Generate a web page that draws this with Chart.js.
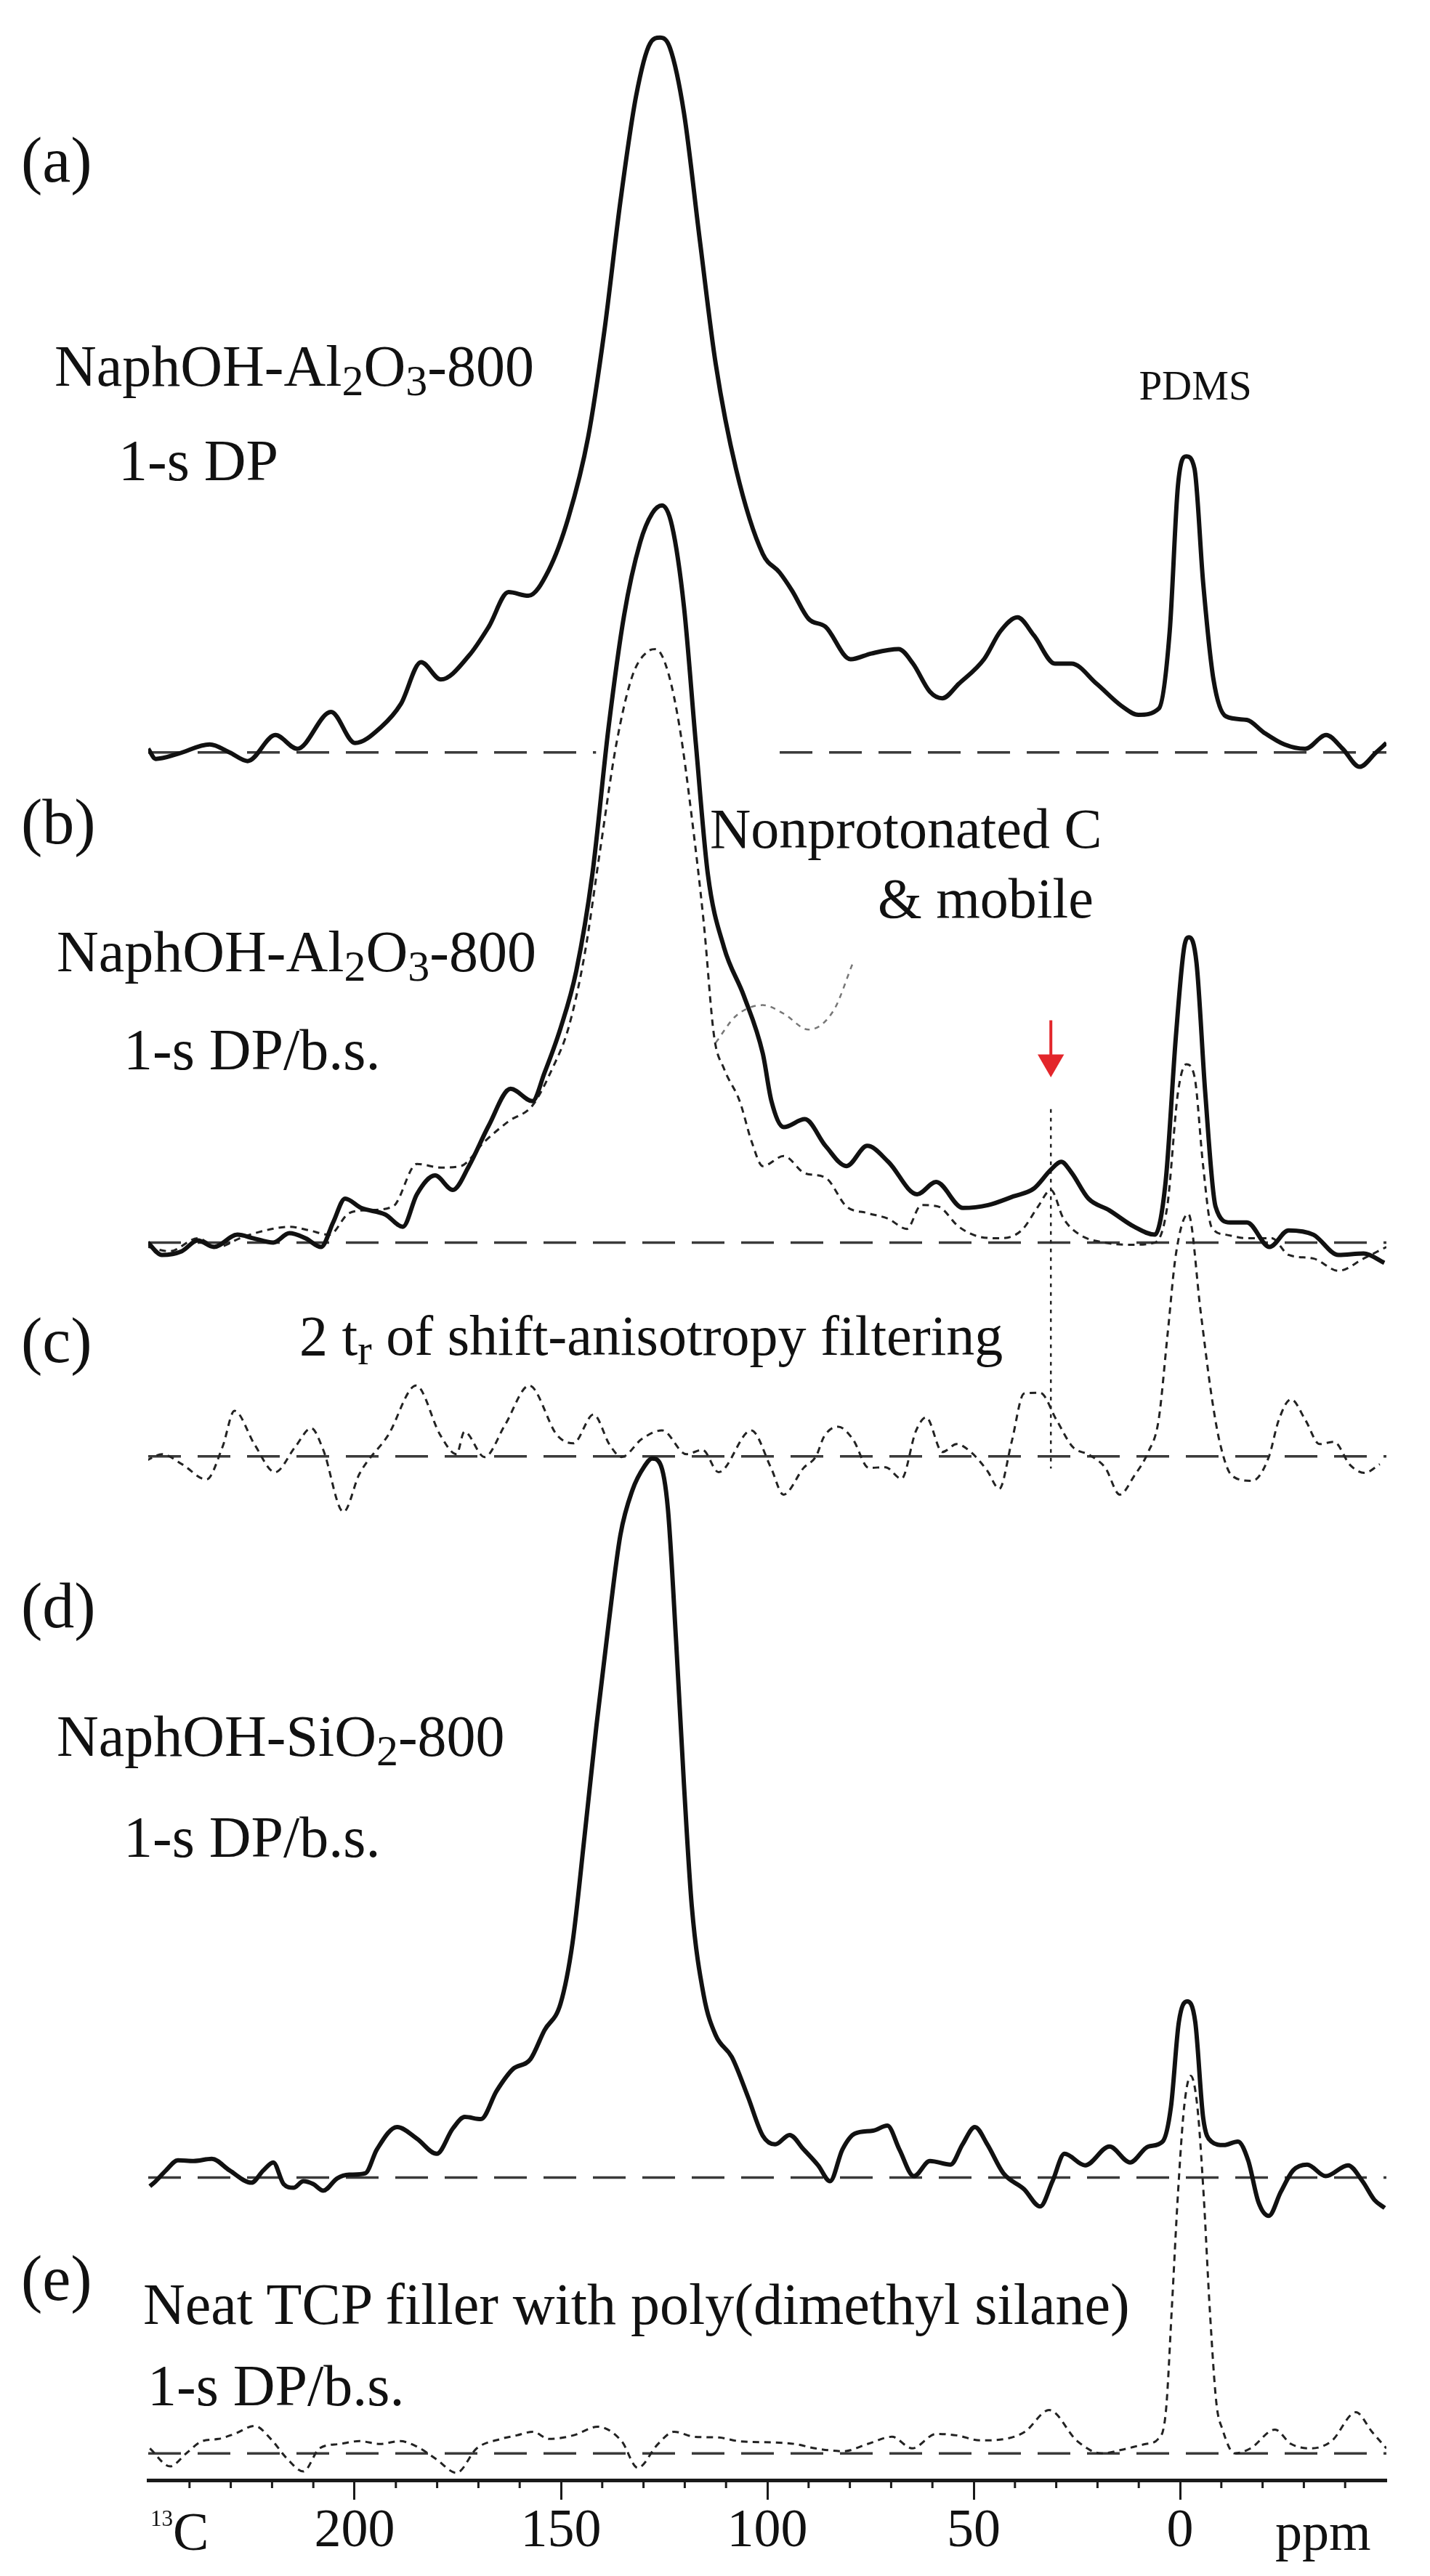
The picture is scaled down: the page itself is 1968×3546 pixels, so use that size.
<!DOCTYPE html>
<html>
<head>
<meta charset="utf-8">
<title>13C DP spectra of NaphOH samples</title>
<script src="https://cdn.jsdelivr.net/npm/chart.js@4.4.1/dist/chart.umd.min.js"></script>
<style>
  html, body { margin: 0; padding: 0; background: #fff; }
  #wrap { position: relative; width: 1968px; height: 3546px; overflow: hidden; }
  #spectra { position: absolute; left: 0; top: 0; }
  .lbl { position: absolute; font-family: "Liberation Serif", "Times New Roman", serif; color: #111; line-height: 1; white-space: nowrap; }
  .lbl .sub { font-size: 0.75em; position: relative; top: 0.22em; }
</style>
</head>
<body>
<div id="wrap"><canvas id="spectra" width="1968" height="3546"></canvas></div>
<script>
// chemical shift axis (ppm, reversed as usual for NMR)
const ppmMin = -50, ppmMax = 250;
const majorTicks = [200, 150, 100, 50, 0];
const minorTicks = [240, 230, 220, 210, 190, 180, 170, 160, 140, 130, 120, 110, 90, 80, 70, 60, 40, 30, 20, 10, -10, -20, -30, -40];

// (a) NaphOH-Al2O3-800, 1-s DP
const ppmA = [250, 248.2, 242.8, 235.1, 230.3, 225.9, 219.2, 213.9, 205.7, 199.9, 193.6, 188.8, 183.9, 179.1, 172.3, 167.5, 162.7, 157.9, 153.0, 148.2, 143.4, 139.5, 135.6, 131.8, 128.4, 126.0, 123.6, 120.2, 116.3, 112.5, 107.6, 101.1, 97.0, 94.0, 90.0, 85.9, 79.8, 74.8, 68.2, 64.7, 60.6, 57.6, 53.6, 47.5, 43.5, 39.4, 35.4, 30.3, 26.3, 20.2, 14.1, 10.1, 5.1, 2.5, 0.5, -1.5, -3.5, -5.6, -8.1, -11.1, -16.2, -20.2, -25.3, -30.3, -35.4, -39.4, -43.5, -47.5, -50];
const intA = [5, -9, -2, 11, 0, -12, 24, 5, 56, 13, 35, 67, 125, 101, 134, 174, 222, 217, 252, 325, 437, 583, 763, 909, 982, 990, 976, 886, 707, 538, 393, 275, 249, 224, 185, 174, 129, 137, 143, 123, 84, 75, 95, 129, 168, 187, 162, 123, 123, 95, 64, 52, 61, 168, 370, 410, 393, 235, 101, 50, 45, 28, 11, 5, 24, 5, -20, 0, 13];

// (b) NaphOH-Al2O3-800, 1-s DP/b.s. (solid) and nonprotonated C & mobile (dotted)
const ppmB = [250.1, 246.7, 241.9, 238.0, 234.1, 228.4, 224.5, 219.7, 215.8, 211.9, 208.1, 205.2, 202.3, 198.4, 192.6, 188.3, 184.9, 180.5, 176.2, 172.3, 167.5, 162.2, 156.9, 154.0, 150.1, 146.3, 142.4, 138.5, 134.7, 130.8, 127.9, 125.5, 123.1, 120.2, 117.3, 114.4, 110.5, 105.7, 101.1, 99.0, 96.0, 90.9, 85.9, 80.8, 75.8, 70.7, 63.7, 59.1, 52.6, 46.5, 40.4, 35.4, 31.3, 28.8, 26.3, 22.2, 17.2, 11.1, 6.1, 3.5, 1.0, -1.0, -2.2, -4.0, -6.1, -8.6, -12.1, -16.2, -21.7, -26.3, -32.3, -38.4, -44.5, -49.5];
const intB = [0, -17, -12, 3, -6, 11, 6, 0, 13, 6, -6, 28, 61, 48, 39, 22, 67, 93, 73, 106, 162, 213, 196, 235, 297, 376, 510, 712, 869, 970, 1010, 1021, 993, 881, 690, 510, 409, 342, 262, 196, 160, 171, 134, 106, 134, 112, 67, 84, 48, 52, 64, 75, 101, 112, 97, 61, 45, 22, 11, 84, 286, 409, 423, 387, 208, 50, 28, 28, -6, 17, 11, -17, -15, -28];
const ppmBnp = [250, 244.8, 238, 233.2, 227.4, 221.6, 215.8, 211, 206.1, 201.3, 196.5, 190.7, 184.9, 179.1, 174.3, 168.5, 162.7, 156.9, 152.1, 148.2, 144.3, 140.5, 136.6, 132.7, 128.9, 127.0, 124.1, 121.2, 118.3, 115.4, 112.9, 110.5, 106.7, 103.8, 101.1, 96.0, 90.9, 85.9, 80.8, 75.8, 70.7, 66.2, 62.7, 58.6, 53.6, 48.5, 43.5, 38.4, 34.4, 31.3, 28.3, 24.3, 18.2, 12.1, 6.1, 3.1, 0.5, -1.5, -3.5, -5.6, -7.6, -11.1, -16.2, -22.2, -26.3, -32.3, -38.4, -44.5, -50];
const intBnp = [-6, -12, 6, -6, 7, 17, 22, 17, 11, 41, 45, 50, 109, 104, 106, 140, 168, 190, 241, 297, 398, 544, 690, 785, 819, 822, 791, 712, 589, 443, 286, 241, 196, 140, 106, 120, 96, 90, 50, 41, 33, 19, 52, 50, 22, 8, 6, 17, 50, 73, 34, 11, 0, -3, 0, 50, 208, 247, 230, 106, 22, 11, 6, 6, -17, -22, -39, -22, -6];
// leader from the label to the dotted spectrum, the marked 31 ppm signal and its arrow
const ppmLeader = [112.5, 107.6, 101.1, 96.0, 90.0, 83.9, 79.3];
const intLeader = [277, 314, 329, 317, 295, 322, 387];
const ppmMarker = [31.3, 31.3];
const intMarker = [185, -313];
const ppmArrow = [31.3, 31.3];
const intArrow = [308, 250];

// (c) 2 tr of shift-anisotropy filtering
const ppmC = [250.5, 246.6, 241.8, 235.9, 232.0, 229.1, 224.2, 219.3, 214.4, 210.5, 207.6, 202.7, 198.8, 191.9, 185.1, 179.2, 175.3, 173.4, 168.5, 163.6, 157.7, 150.9, 147.0, 142.1, 138.2, 135.3, 130.4, 125.5, 119.6, 115.7, 111.8, 103.9, 99.1, 96.1, 91.2, 88.2, 86.2, 82.8, 79.3, 75.4, 71.4, 67.5, 64.0, 61.5, 57.6, 54.1, 50.7, 46.7, 43.8, 40.8, 37.8, 33.9, 29.9, 26.0, 22.0, 18.1, 14.6, 11.1, 7.7, 5.2, 3.0, 1.0, -2.0, -5.0, -7.6, -9.6, -12.6, -17.5, -21.5, -23.9, -26.9, -30.4, -33.8, -37.3, -41.2, -44.7, -48.4];
const intC = [-6, 3, -11, -32, 13, 63, 16, -22, 13, 39, 9, -77, -24, 29, 98, 29, 3, 34, -1, 43, 98, 29, 18, 58, 16, -1, 24, 36, 3, 9, -22, 36, -16, -53, -16, 0, 28, 41, 24, -16, -15, -31, 35, 54, 6, 17, 6, -20, -45, 20, 87, 88, 50, 13, 2, -16, -53, -27, 6, 50, 170, 280, 336, 200, 85, 20, -27, -34, -1, 50, 79, 50, 17, 20, -12, -23, -11];

// (d) NaphOH-SiO2-800, 1-s DP/b.s.
const ppmD = [249.6, 248.2, 245.7, 242.8, 239.0, 234.6, 230.3, 225.0, 222.1, 219.7, 217.2, 214.8, 212.4, 210.0, 207.6, 204.2, 201.3, 197.4, 194.6, 189.7, 184.9, 180.1, 176.2, 173.3, 169.4, 165.6, 161.7, 157.4, 154.0, 150.1, 147.2, 144.3, 141.4, 138.5, 135.6, 132.7, 129.8, 127.9, 126.0, 124.1, 122.1, 120.2, 118.3, 115.4, 112.5, 108.6, 104.7, 101.1, 98.1, 94.6, 91.2, 87.7, 84.8, 81.8, 78.8, 74.4, 70.9, 68.0, 64.5, 60.6, 55.6, 52.7, 49.7, 46.7, 42.8, 37.8, 33.9, 30.9, 28.0, 23.0, 17.1, 12.1, 7.7, 4.2, 2.2, 0.3, -1.7, -3.7, -5.6, -7.6, -10.6, -14.0, -16.5, -19.0, -21.5, -24.4, -27.4, -30.8, -35.3, -40.7, -44.2, -47.1, -49.6];
const intD = [-12, -5, 10, 24, 23, 26, 10, -7, 10, 21, -9, -14, -5, -9, -18, -1, 4, 6, 39, 70, 54, 33, 68, 84, 81, 120, 150, 164, 204, 241, 325, 472, 626, 765, 890, 952, 985, 996, 989, 927, 743, 545, 376, 252, 197, 167, 112, 58, 46, 59, 39, 17, -5, 39, 61, 65, 72, 39, 2, 23, 18, 46, 70, 46, 6, -16, -40, -5, 33, 17, 43, 21, 43, 50, 98, 215, 244, 215, 83, 50, 45, 50, 24, -34, -53, -20, 10, 18, 2, 17, -5, -31, -42];

// (e) neat TCP filler with poly(dimethyl silane), 1-s DP/b.s.
const ppmE = [249.6, 244.7, 240.8, 236.9, 233.0, 229.1, 224.2, 220.3, 216.4, 212.4, 208.5, 203.7, 198.8, 193.9, 189.0, 185.1, 180.2, 175.3, 170.4, 164.6, 160.7, 156.8, 152.9, 147.0, 141.1, 135.3, 131.4, 126.5, 122.6, 117.7, 111.8, 107.0, 98.1, 93.3, 88.4, 81.5, 75.7, 69.8, 64.9, 59.1, 54.2, 48.3, 42.4, 37.6, 31.7, 24.9, 19.0, 14.1, 8.3, 5.3, 3.4, 2.0, 0.5, -1.0, -2.6, -4.2, -5.7, -7.2, -8.8, -10.3, -13.2, -17.1, -23.0, -26.9, -31.8, -36.7, -42.6, -46.5, -50.0];
const intE = [7, -18, 0, 17, 20, 27, 38, 20, -7, -25, 7, 13, 17, 13, 17, 10, -8, -27, 7, 20, 25, 30, 20, 25, 37, 17, -20, 13, 30, 23, 22, 17, 15, 13, 7, 3, 13, 23, 7, 27, 25, 18, 20, 30, 60, 17, 0, 5, 13, 20, 60, 200, 360, 480, 523, 480, 360, 200, 70, 33, 0, 7, 33, 13, 7, 17, 57, 30, 7];

// baseline of (a) is interrupted where spectrum (b) passes through it
const gapA = [141.5, 97];

// page layout: y of each zero line and bottom of the plot area (px)
const PAGE_W = 1968, PAGE_H = 3546;
const PLOT_LEFT = 204, PLOT_RIGHT = 1908, PLOT_BOTTOM = 3414;
const zeroY = { ya: 1021, yb: 1700, yc: 1996, yd: 2995, ye: 3377 };

const INK = '#111';
const pts = (xs, ys) => xs.map((x, i) => ({ x: x, y: ys[i] }));

function solidLine(xs, ys, axis) {
  return { data: pts(xs, ys), yAxisID: axis, borderColor: INK, borderWidth: 6, pointRadius: 0,
           cubicInterpolationMode: 'monotone', fill: false, order: 1 };
}
function dottedLine(xs, ys, axis, width) {
  return { data: pts(xs, ys), yAxisID: axis, borderColor: '#222', borderWidth: width || 3, borderDash: [9, 7],
           pointRadius: 0, cubicInterpolationMode: 'monotone', fill: false, order: 2 };
}
function zeroLine(axis, gap) {
  let data = [{ x: ppmMax, y: 0 }, { x: ppmMin, y: 0 }];
  if (gap) {
    data = [{ x: ppmMax, y: 0 }, { x: gap[0], y: 0 }, { x: (gap[0] + gap[1]) / 2, y: null },
            { x: gap[1], y: 0 }, { x: ppmMin, y: 0 }];
  }
  return { data: data, yAxisID: axis, borderColor: '#3a3a3a', borderWidth: 3.5, borderDash: [45, 23],
           pointRadius: 0, spanGaps: false, tension: 0, fill: false, order: 5 };
}

const datasets = [
  zeroLine('ya', gapA), zeroLine('yb'), zeroLine('yc'), zeroLine('yd'), zeroLine('ye'),
  solidLine(ppmA, intA, 'ya'),
  solidLine(ppmB, intB, 'yb'),
  dottedLine(ppmBnp, intBnp, 'yb'),
  Object.assign(dottedLine(ppmLeader, intLeader, 'yb', 2.5), { borderColor: '#777', borderDash: [7, 7] }),
  Object.assign(dottedLine(ppmMarker, intMarker, 'yb', 2.5), { borderDash: [5, 7], tension: 0, cubicInterpolationMode: 'default' }),
  {
    data: pts(ppmArrow, intArrow), yAxisID: 'yb', borderColor: '#e3262b', borderWidth: 4,
    pointRadius: [0, 21], pointStyle: 'triangle', pointRotation: 180,
    pointBackgroundColor: '#e3262b', pointBorderColor: '#e3262b', pointBorderWidth: 0, order: 0
  },
  dottedLine(ppmC, intC, 'yc'),
  solidLine(ppmD, intD, 'yd'),
  dottedLine(ppmE, intE, 'ye')
];

// one hidden y scale per stacked spectrum, 1 unit = 1 px above its zero line
const yScales = {};
Object.keys(zeroY).forEach(k => {
  yScales[k] = { type: 'linear', display: false, min: zeroY[k] - PLOT_BOTTOM, max: zeroY[k] };
});

const minorTickPlugin = {
  id: 'minorTicks',
  afterDraw(chart) {
    const sx = chart.scales.x;
    const y0 = chart.chartArea.bottom;
    const ctx = chart.ctx;
    ctx.save();
    ctx.strokeStyle = '#1a1a1a';
    ctx.lineWidth = 3;
    minorTicks.forEach(v => {
      const px = sx.getPixelForValue(v);
      ctx.beginPath();
      ctx.moveTo(px, y0);
      ctx.lineTo(px, y0 + 11);
      ctx.stroke();
    });
    ctx.restore();
  }
};

new Chart(document.getElementById('spectra'), {
  type: 'line',
  data: { datasets: datasets },
  plugins: [minorTickPlugin],
  options: {
    responsive: false,
    animation: false,
    devicePixelRatio: 1,
    layout: { padding: { left: PLOT_LEFT, right: PAGE_W - PLOT_RIGHT, top: 0, bottom: 0 } },
    plugins: { legend: { display: false }, tooltip: { enabled: false } },
    scales: Object.assign({
      x: {
        type: 'linear', position: 'bottom', min: ppmMin, max: ppmMax, reverse: true,
        afterBuildTicks: s => { s.ticks = majorTicks.map(v => ({ value: v })); },
        afterFit: s => { s.height = PAGE_H - PLOT_BOTTOM; },
        grid: { drawOnChartArea: false, drawTicks: true, tickLength: 27, tickWidth: 3, tickColor: '#1a1a1a' },
        border: { display: true, width: 5, color: '#1a1a1a' },
        ticks: { color: INK, padding: 0, maxRotation: 0, autoSkip: false,
                 font: { family: 'Liberation Serif', size: 74 } }
      }
    }, yScales)
  }
});

// text labels: left x, baseline y, font size (px)
const textLabels = [
  { html: '(a)', x: 29, y: 251, size: 88 },
  { html: 'NaphOH-Al<span class="sub">2</span>O<span class="sub">3</span>-800', x: 75, y: 531, size: 80 },
  { html: '1-s DP', x: 163, y: 661, size: 80 },
  { html: 'PDMS', x: 1645, y: 550, size: 57, center: true },
  { html: '(b)', x: 29, y: 1162, size: 88 },
  { html: 'Nonprotonated C', x: 977, y: 1167, size: 78 },
  { html: '&amp; mobile', x: 1208, y: 1263, size: 78 },
  { html: 'NaphOH-Al<span class="sub">2</span>O<span class="sub">3</span>-800', x: 78, y: 1337, size: 80 },
  { html: '1-s DP/b.s.', x: 170, y: 1472, size: 80 },
  { html: '(c)', x: 29, y: 1876, size: 88 },
  { html: '2 t<span class="sub">r</span> of shift-anisotropy filtering', x: 412, y: 1865, size: 78 },
  { html: '(d)', x: 29, y: 2241, size: 88 },
  { html: 'NaphOH-SiO<span class="sub">2</span>-800', x: 78, y: 2417, size: 80 },
  { html: '1-s DP/b.s.', x: 170, y: 2556, size: 80 },
  { html: '(e)', x: 29, y: 3167, size: 88 },
  { html: 'Neat TCP filler with poly(dimethyl silane)', x: 197, y: 3199, size: 80 },
  { html: '1-s DP/b.s.', x: 203, y: 3311, size: 80 },
  { html: '<span style="font-size:0.42em;position:relative;top:-1.05em">13</span>C', x: 207, y: 3510, size: 74 },
  { html: 'ppm', x: 1755, y: 3510, size: 74 }
];

const wrap = document.getElementById('wrap');
textLabels.forEach(t => {
  const d = document.createElement('div');
  d.className = 'lbl';
  d.innerHTML = t.html;
  d.style.fontSize = t.size + 'px';
  d.style.left = t.x + 'px';
  d.style.top = (t.y - 0.8375 * t.size) + 'px';
  if (t.center) d.style.transform = 'translateX(-50%)';
  wrap.appendChild(d);
});
</script>
</body>
</html>
